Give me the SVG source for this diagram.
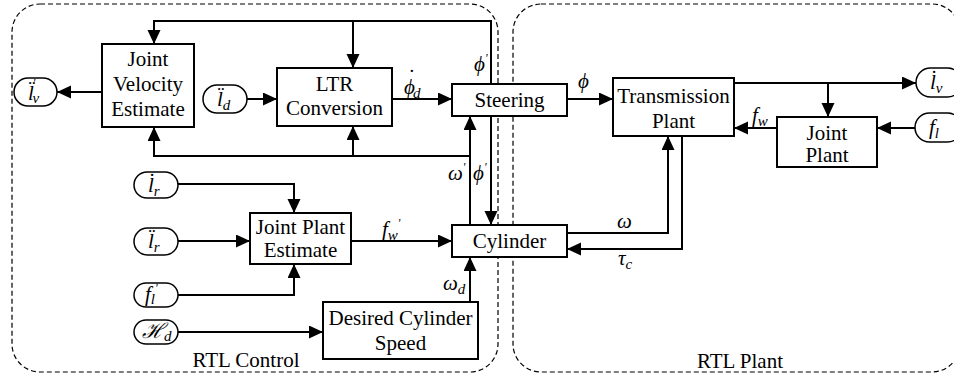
<svg xmlns="http://www.w3.org/2000/svg" width="954" height="378" viewBox="0 0 954 378">
<style>
text{font-family:"Liberation Serif","Times New Roman",serif;font-size:21px;fill:#000}
.c{text-anchor:middle}
.m{font-style:italic}
.sub{font-size:15px}
.pr{font-size:12px}
.box{fill:#fff;stroke:#000;stroke-width:2}
.term{fill:#fff;stroke:#000;stroke-width:1.5}
.ln{fill:none;stroke:#000;stroke-width:2}
.region{fill:none;stroke:#000;stroke-width:1.2;stroke-dasharray:5 3}
</style>
<defs>
<marker id="ah" markerUnits="userSpaceOnUse" markerWidth="14" markerHeight="14" refX="14" refY="6.5" orient="auto">
<path d="M0,0 L14,6.5 L0,13 z" fill="#000"/>
</marker>
</defs>
<g id="regions">
<rect class="region" x="12" y="4" width="486" height="368" rx="28"/>
<rect class="region" x="513" y="4" width="447" height="368" rx="28"/>
<text class="c" x="246" y="367">RTL Control</text>
<text class="c" x="740" y="368">RTL Plant</text>
</g>
<g id="connectors">
<path class="ln" d="M102,92 H57" marker-end="url(#ah)"/>
<path class="ln" d="M247,99 H277" marker-end="url(#ah)"/>
<path class="ln" d="M392,99 H452" marker-end="url(#ah)"/>
<path class="ln" d="M567,99 H613" marker-end="url(#ah)"/>
<path class="ln" d="M491,84 V21 H154 V44" marker-end="url(#ah)"/>
<path class="ln" d="M353,21 V68" marker-end="url(#ah)"/>
<path class="ln" d="M491,116 V225" marker-end="url(#ah)"/>
<path class="ln" d="M470,225 V116" marker-end="url(#ah)"/>
<path class="ln" d="M470,156 H154 V127" marker-end="url(#ah)"/>
<path class="ln" d="M353,156 V126" marker-end="url(#ah)"/>
<path class="ln" d="M734,83 H916" marker-end="url(#ah)"/>
<path class="ln" d="M828,83 V117" marker-end="url(#ah)"/>
<path class="ln" d="M915,128 H877" marker-end="url(#ah)"/>
<path class="ln" d="M777,128 H734" marker-end="url(#ah)"/>
<path class="ln" d="M567,233 H668 V136" marker-end="url(#ah)"/>
<path class="ln" d="M682,136 V249 H567" marker-end="url(#ah)"/>
<path class="ln" d="M178,184 H294 V213" marker-end="url(#ah)"/>
<path class="ln" d="M178,241 H250" marker-end="url(#ah)"/>
<path class="ln" d="M178,295 H294 V264" marker-end="url(#ah)"/>
<path class="ln" d="M351,241 H452" marker-end="url(#ah)"/>
<path class="ln" d="M178,332 H323" marker-end="url(#ah)"/>
<path class="ln" d="M470,302 V257" marker-end="url(#ah)"/>
<text class="m" x="404" y="94">ϕ<tspan dx="-8" dy="-10">˙</tspan><tspan class="sub" dx="-1" dy="14">d</tspan></text>
<text class="m" x="578" y="88">ϕ</text>
<text class="m" x="474" y="71">ϕ<tspan class="pr" dy="-9">'</tspan></text>
<text class="m" x="448" y="180">ω<tspan class="pr" dy="-9">'</tspan></text>
<text class="m" x="473" y="180">ϕ<tspan class="pr" dy="-9">'</tspan></text>
<text class="m" x="382" y="236">f<tspan class="sub" dy="4">w</tspan><tspan class="pr" dy="-13">'</tspan></text>
<text class="m" x="443" y="290">ω<tspan class="sub" dy="4">d</tspan></text>
<text class="m" x="752" y="122">f<tspan class="sub" dy="4">w</tspan></text>
<text class="m" x="617" y="228">ω</text>
<text class="m" x="618" y="265">τ<tspan class="sub" dy="4">c</tspan></text>
</g>
<g id="jve"><rect class="box" x="102" y="44" width="92" height="83"/><text class="c" x="148" y="66">Joint</text><text class="c" x="148" y="91">Velocity</text><text class="c" x="148" y="116">Estimate</text></g>
<g id="ltr"><rect class="box" x="277" y="68" width="115" height="58"/><text class="c" x="334.5" y="91">LTR</text><text class="c" x="334.5" y="115">Conversion</text></g>
<g id="steering"><rect class="box" x="452" y="84" width="115" height="32"/><text class="c" x="509.5" y="107">Steering</text></g>
<g id="cylinder"><rect class="box" x="452" y="225" width="115" height="32"/><text class="c" x="509.5" y="248">Cylinder</text></g>
<g id="jpe"><rect class="box" x="250" y="213" width="101" height="51"/><text class="c" x="300.5" y="234">Joint Plant</text><text class="c" x="300.5" y="257">Estimate</text></g>
<g id="dcs"><rect class="box" x="323" y="302" width="155" height="57"/><text class="c" x="400.5" y="325">Desired Cylinder</text><text class="c" x="400.5" y="350">Speed</text></g>
<g id="transmission"><rect class="box" x="613" y="78" width="121" height="58"/><text class="c" x="673.5" y="103">Transmission</text><text class="c" x="673.5" y="128">Plant</text></g>
<g id="jointplant"><rect class="box" x="777" y="117" width="100" height="50"/><text class="c" x="827" y="140">Joint</text><text class="c" x="827" y="162">Plant</text></g>
<g id="t_lv_left"><rect class="term" x="14" y="78" width="43" height="28" rx="14"/><text class="m" x="28" y="100">l̈<tspan class="pr" dx="-1" dy="-13">'</tspan><tspan class="sub" dx="-3" dy="16">v</tspan></text></g>
<g id="t_ld"><rect class="term" x="203" y="85" width="44" height="28" rx="14"/><text class="m" x="217" y="106">l̈<tspan class="sub" dy="4">d</tspan></text></g>
<g id="t_lr_dot"><rect class="term" x="134" y="172" width="44" height="26" rx="13"/><text class="m" x="148" y="192">l̇<tspan class="sub" dy="4">r</tspan></text></g>
<g id="t_lr_ddot"><rect class="term" x="134" y="228" width="44" height="27" rx="13.5"/><text class="m" x="148" y="248">l̈<tspan class="sub" dy="4">r</tspan></text></g>
<g id="t_fl_prime"><rect class="term" x="134" y="283" width="44" height="24" rx="12"/><text class="m" x="145" y="301">f<tspan class="sub" dy="3">l</tspan><tspan class="pr" dy="-12">'</tspan></text></g>
<g id="t_hd"><rect class="term" x="134" y="320" width="44" height="24" rx="12"/><text class="m" x="142" y="338">ℋ<tspan class="sub" dy="3">d</tspan></text></g>
<g id="t_lv_right"><rect class="term" x="916" y="68" width="46" height="29" rx="14.5"/><text class="m" x="930" y="89">l̇<tspan class="sub" dy="4">v</tspan></text></g>
<g id="t_fl"><rect class="term" x="915" y="113" width="47" height="29" rx="14.5"/><text class="m" x="929" y="134">f<tspan class="sub" dy="4">l</tspan></text></g>
</svg>
